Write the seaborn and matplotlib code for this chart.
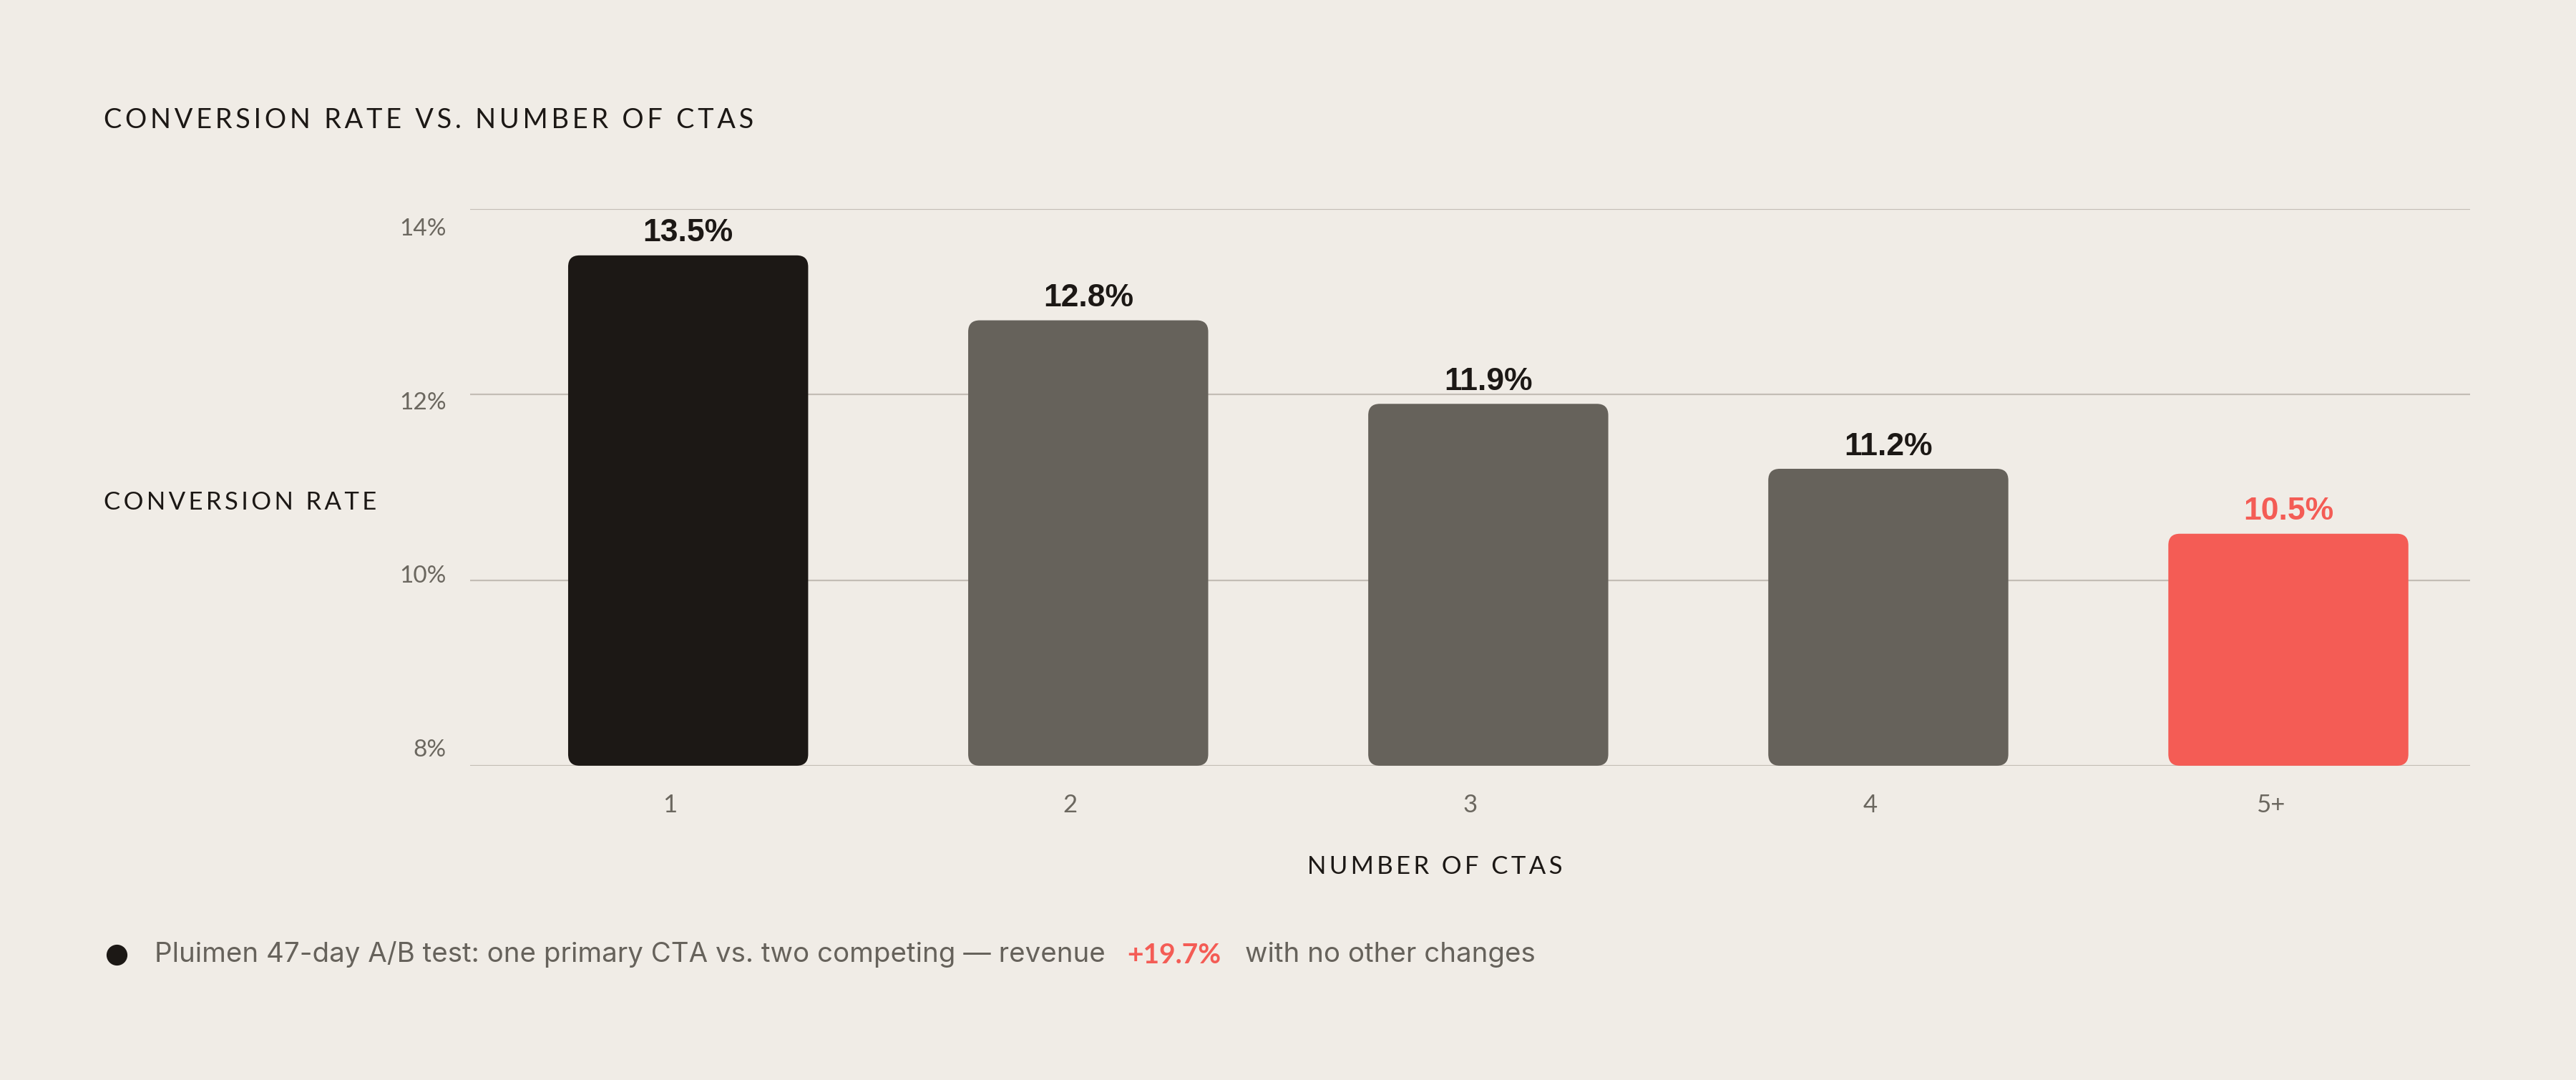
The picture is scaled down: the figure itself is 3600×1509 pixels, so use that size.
# ======================================================
# CONVERSION RATE VS. NUMBER OF CTAS - BAR CHART
# ======================================================

import pandas as pd
import matplotlib
matplotlib.use('Agg')
import matplotlib.pyplot as plt
import matplotlib.transforms as mtransforms
import seaborn as sns
from matplotlib.patches import FancyBboxPatch
from matplotlib.lines import Line2D

# ------------------------------------------------------
# Data
# ------------------------------------------------------
cta_counts = ['1', '2', '3', '4', '5+']
conversion_rates = [13.5, 12.8, 11.9, 11.2, 10.5]

y_ticks = [8, 10, 12, 14]
y_tick_labels = ['8%', '10%', '12%', '14%']

title_text = 'CONVERSION RATE VS. NUMBER OF CTAS'
y_label_text = 'CONVERSION RATE'
x_label_text = 'NUMBER OF CTAS'

footer_lead = 'Pluimen 47-day A/B test: one primary CTA vs. two competing \u2014 revenue'
footer_highlight = '+19.7%'
footer_tail = 'with no other changes'

# ------------------------------------------------------
# Colours
# ------------------------------------------------------
BG = '#f0ece6'
INK = '#1c1815'
STONE = '#66625b'
CORAL = '#f45c55'
GRID = '#c3bdb5'
MUTED = '#6b675f'

bar_colors = [INK, STONE, STONE, STONE, CORAL]
label_colors = [INK, INK, INK, INK, CORAL]


def spaced(text):
    # fake letter spacing with thin spaces
    return '\u2009'.join(text)


sns.set_theme(style='white')
plt.rcParams['font.family'] = ['Lato', 'DejaVu Sans']

df = pd.DataFrame({'ctas': cta_counts, 'rate': conversion_rates})

fig = plt.figure(figsize=(36, 15.09), dpi=100)
fig.patch.set_facecolor(BG)
ax = fig.add_axes([0.1825, 0.291, 0.7765, 0.5155])
ax.set_facecolor(BG)

sns.barplot(
    data=df,
    x='ctas',
    y='rate',
    hue='ctas',
    palette=bar_colors,
    width=0.6,
    legend=False,
    ax=ax
)

# bars sit slightly right of the category slots in the original
shift = 0.045
ax.set_ylim(8, 14)
ax.set_xlim(-0.5 - shift, 4.5 - shift)

# ------------------------------------------------------
# Rounded bars starting at the axis floor
# ------------------------------------------------------
fig.canvas.draw()
px_x = ax.transData.transform((1, 0))[0] - ax.transData.transform((0, 0))[0]
px_y = ax.transData.transform((0, 1))[1] - ax.transData.transform((0, 0))[1]
aspect = px_x / px_y
radius = 16 / px_x

floor = ax.get_ylim()[0]
old_bars = list(ax.patches)
for i, bar in enumerate(old_bars):
    x0 = bar.get_x()
    w = bar.get_width()
    top = bar.get_y() + bar.get_height()
    rounded = FancyBboxPatch(
        (x0, floor), w, top - floor,
        boxstyle=f'round,pad=0,rounding_size={radius}',
        mutation_aspect=aspect,
        facecolor=bar_colors[i],
        edgecolor='none',
        zorder=3
    )
    bar.remove()
    ax.add_patch(rounded)

    ax.annotate(
        f'{top:.1f}%',
        xy=(x0 + w / 2, top),
        xytext=(0, 14),
        textcoords='offset points',
        ha='center',
        va='baseline',
        fontsize=32,
        fontweight='bold',
        family=['Liberation Sans', 'DejaVu Sans'],
        color=label_colors[i]
    )

# ------------------------------------------------------
# Axes styling
# ------------------------------------------------------
ax.set_xticks([i - shift for i in range(len(cta_counts))], cta_counts)
ax.set_yticks(y_ticks, y_tick_labels)
ax.yaxis.grid(True, color=GRID, linewidth=1.6)
ax.xaxis.grid(False)
ax.set_axisbelow(True)
ax.tick_params(axis='y', length=0, pad=24, labelsize=24, labelcolor=MUTED)
ax.tick_params(axis='x', length=0, pad=28, labelsize=25, labelcolor=MUTED)
ax.set_xlabel('')
ax.set_ylabel('')
sns.despine(ax=ax, left=True, bottom=True)

# the y labels in the original are spread a little tighter than the grid
mid = (y_ticks[0] + y_ticks[-1]) / 2
for tick_value, label in zip(y_ticks, ax.get_yticklabels()):
    dy = (mid - tick_value) * 0.064 * px_y / fig.dpi
    label.set_transform(label.get_transform()
                        + mtransforms.ScaledTranslation(0, dy, fig.dpi_scale_trans))

# ------------------------------------------------------
# Titles and labels
# ------------------------------------------------------
fig.text(145 / 3600, 1 - 168 / 1509, spaced(title_text),
         ha='left', va='center', fontsize=27.3, color=INK)
fig.text(145 / 3600, 1 - 702 / 1509, spaced(y_label_text),
         ha='left', va='center', fontsize=25, color=INK)
fig.text(2005 / 3600, 1 - 1211 / 1509, spaced(x_label_text),
         ha='center', va='center', fontsize=25, color=INK)

# ------------------------------------------------------
# Footer note
# ------------------------------------------------------
footer_y = 1 - 1334 / 1509
footer_font = ['Inter', 'DejaVu Sans']
fig.add_artist(Line2D([163 / 3600], [footer_y], marker='o', markersize=20,
                      color=INK, transform=fig.transFigure))

t1 = fig.text(216 / 3600, footer_y, footer_lead, ha='left', va='center',
              fontsize=27.7, color=STONE, family=footer_font)
t2 = ax.annotate(footer_highlight, xy=(1, 0.5), xycoords=t1,
                 xytext=(22, 0), textcoords='offset points',
                 ha='left', va='center', fontsize=28, fontweight='bold',
                 color=CORAL)
ax.annotate(footer_tail, xy=(1, 0.5), xycoords=t2,
            xytext=(24, 0), textcoords='offset points',
            ha='left', va='center', fontsize=27.7, color=STONE,
            family=footer_font)

plt.savefig('out.png', dpi=100, facecolor=BG)
plt.close()
